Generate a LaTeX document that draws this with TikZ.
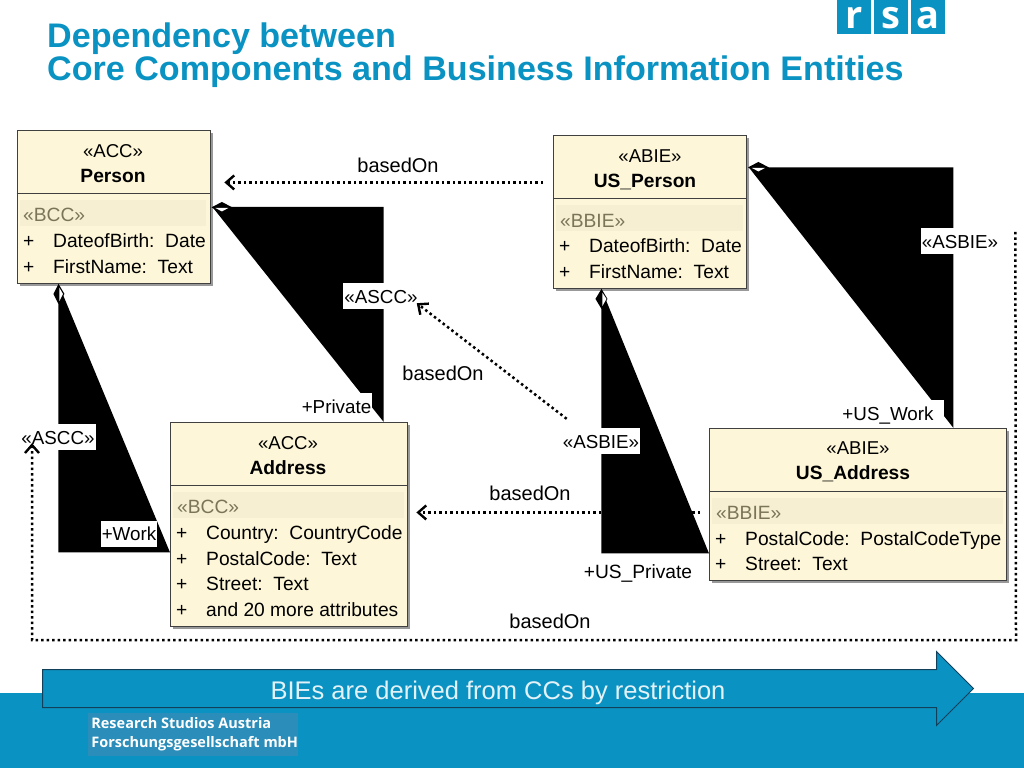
\documentclass[tikz,border=0pt]{standalone}
\usepackage{fontspec}
\setmainfont{Liberation Sans}
\newfontfamily\logofont{Open Sans}
\usetikzlibrary{arrows.meta,positioning,shapes,shapes.arrows,shadows,calc}
\definecolor{rsablue}{HTML}{0A93C2}
\definecolor{rsaband}{HTML}{2B8DB9}
\definecolor{rsanavy}{HTML}{12405A}
\definecolor{classbg}{HTML}{FDF6D8}
\definecolor{attrbg}{HTML}{F6EFD2}
\definecolor{stereo}{HTML}{7A7458}
\begin{document}
\begin{tikzpicture}[
  x=1pt, y=-1pt,
  cls/.style={draw=black!75, fill=classbg, line width=0.9pt, anchor=north west, inner sep=0pt, drop shadow={shadow xshift=3pt, shadow yshift=-3pt, fill=black!40, opacity=1}},
  band/.style={fill=attrbg, draw=none, anchor=north west, inner sep=0pt, minimum height=26pt},
  stype/.style={font=\fontsize{18.6}{20}\selectfont, inner sep=0pt},
  cname/.style={font=\fontsize{19.2}{20}\selectfont\bfseries, inner sep=0pt},
  bcc/.style={font=\fontsize{19.2}{20}\selectfont, text=stereo, inner sep=0pt, anchor=west},
  attr/.style={font=\fontsize{19.2}{20}\selectfont, inner sep=0pt, anchor=base west},
  lab/.style={font=\fontsize{19.2}{20}\selectfont, inner sep=0pt},
  based/.style={font=\fontsize{20}{20}\selectfont, inner sep=0pt},
  tag/.style={font=\fontsize{18.8}{20}\selectfont, fill=white, inner xsep=1pt, inner ysep=4pt, text height=16pt, text depth=2pt},
  dep/.style={line width=2.5pt, dash pattern=on 2.5pt off 3pt, -{Straight Barb[length=8pt,width=14pt,line width=2.4pt]}},
  logobox/.style={fill=rsablue, text=white, minimum width=34pt, minimum height=34pt, inner sep=0pt, font=\logofont\fontsize{38}{38}\selectfont\bfseries, anchor=north west, text height=23pt, text depth=0pt}
]
\useasboundingbox (0,0) rectangle (1024,768);
\fill[white] (0,0) rectangle (1024,768);
% footer and title
\node[fill=rsablue, anchor=north west, minimum width=1024pt, minimum height=75pt, inner sep=0pt] (footer) at (0,693) {};
\node[fill=rsaband, anchor=north west, minimum width=210pt, minimum height=43pt, inner sep=0pt, align=left, text=white, font=\logofont\fontsize{14.5}{19}\selectfont\bfseries] (rsf) at (88,713) {\hspace*{3pt}Research Studios Austria\\\hspace*{3pt}Forschungsgesellschaft mbH};
\node[anchor=north west, inner sep=0pt, align=left, text=rsablue, font=\fontsize{34.1}{33}\selectfont\bfseries] (title) at (47,23) {Dependency between\\Core Components and Business Information Entities};
\node[logobox] (logor) at (837,0) {r};
\node[logobox] (logos) at (874,0) {s};
\node[logobox] (logoa) at (911,0) {a};
\node[single arrow, draw=rsanavy, fill=rsablue, line width=1pt, anchor=tail, minimum width=73pt, minimum height=931pt, single arrow head extend=18pt, single arrow tip angle=90, inner xsep=0pt, inner ysep=18.5pt] (derive) at (42,688.5) {};
\node[text=white!88!rsablue, inner sep=0pt, font=\fontsize{25.5}{25.5}\selectfont] (derivet) at (498,692.5) {BIEs are derived from CCs by restriction};
% the four classes
\node[cls, minimum width=193pt, minimum height=153pt] (person) at (16.5,130) {};
\node[cls, minimum width=236.5pt, minimum height=204pt] (address) at (170,422) {};
\node[cls, minimum width=193pt, minimum height=153pt] (usperson) at (553,135) {};
\node[cls, minimum width=297pt, minimum height=152pt] (usaddress) at (709,428) {};
% person
\node[stype] (persons) at (113,151) {«ACC»};
\node[cname] (personn) at (113,176) {Person};
\draw[black!75, line width=0.9pt] (person.west |- 0,193) -- (person.east |- 0,193);
\node[band, minimum width=186pt] (personb) at (20,200) {};
\node[bcc] (personc) at (23,215) {«BCC»};
\node[attr] at (23,247) {+}; \node[attr] at (53,247) {DateofBirth:~~Date};
\node[attr] at (23,273) {+}; \node[attr] at (53,273) {FirstName:~~Text};
% address
\node[stype] (addresss) at (288,443) {«ACC»};
\node[cname] (addressn) at (288,468) {Address};
\draw[black!75, line width=0.9pt] (address.west |- 0,485) -- (address.east |- 0,485);
\node[band, minimum width=231pt] (addressb) at (173,492) {};
\node[bcc] (addressc) at (177,507) {«BCC»};
\node[attr] at (176,539) {+}; \node[attr] at (206,539) {Country:~~CountryCode};
\node[attr] at (176,565) {+}; \node[attr] at (206,565) {PostalCode:~~Text};
\node[attr] at (176,590) {+}; \node[attr] at (206,590) {Street:~~Text};
\node[attr] at (176,616) {+}; \node[attr] at (206,616) {and 20 more attributes};
% us person
\node[stype] (uspersons) at (650,156) {«ABIE»};
\node[cname] (uspersonn) at (645,182) {US\_Person};
\draw[black!75, line width=0.9pt] (usperson.west |- 0,198) -- (usperson.east |- 0,198);
\node[band, minimum width=187pt] (uspersonb) at (556,205) {};
\node[bcc] (uspersonc) at (560,221) {«BBIE»};
\node[attr] at (559,252) {+}; \node[attr] at (589,252) {DateofBirth:~~Date};
\node[attr] at (559,278) {+}; \node[attr] at (589,278) {FirstName:~~Text};
% us address
\node[stype] (usaddresss) at (858,448) {«ABIE»};
\node[cname] (usaddressn) at (853,474) {US\_Address};
\draw[black!75, line width=0.9pt] (usaddress.west |- 0,491) -- (usaddress.east |- 0,491);
\node[band, minimum width=291pt] (usaddressb) at (712,498) {};
\node[bcc] (usaddressc) at (716,513) {«BBIE»};
\node[attr] at (715,545) {+}; \node[attr] at (745,545) {PostalCode:~~PostalCodeType};
\node[attr] at (715,570) {+}; \node[attr] at (745,570) {Street:~~Text};
% dependencies between classes, under the black shapes
\draw[dep, shorten <=10pt, shorten >=14pt] ([yshift=29.5pt]usperson.west) -- ([yshift=24.5pt]person.east);
\draw[dep, shorten <=9pt, shorten >=9pt] ([yshift=-8pt]usaddress.west) -- ([yshift=12pt]address.east);
% aggregations
\coordinate (work) at ([yshift=-28pt]address.west);
\coordinate (workb) at ([xshift=-55pt]person.south);
\coordinate (priv) at ([xshift=95pt]address.north);
\coordinate (privb) at ([xshift=2pt]person.east);
\coordinate (uspriv) at ([yshift=-49pt]usaddress.west);
\coordinate (usprivb) at ([xshift=-48.5pt]usperson.south);
\coordinate (uswork) at ([xshift=95.5pt]usaddress.north);
\coordinate (usworkb) at ([xshift=2pt,yshift=44.5pt]usperson.east);
\fill[black] (workb) -- (workb |- work) -- (work) -- cycle;
\fill[black] (privb) -- (priv |- privb) -- (priv) -- cycle;
\fill[black] (usprivb) -- (usprivb |- uspriv) -- (uspriv) -- cycle;
\fill[black] (usworkb) -- (uswork |- usworkb) -- (uswork) -- cycle;
\fill[black] (workb) -- ++(-5,10) -- ++(5,10) -- ++(6,-10) -- cycle;
\fill[white] (workb) ++(1,4) -- ++(3.5,6) -- ++(-3.5,7) -- cycle;
\fill[black] (usprivb) -- ++(-6,10) -- ++(6,10) -- ++(6,-10) -- cycle;
\fill[white] (usprivb) ++(1,4) -- ++(4,6) -- ++(-4,7) -- cycle;
\fill[black] (privb) ++(-1,0.5) -- ++(10.5,-5.5) -- ++(10.5,5.5) -- ++(-10.5,5) -- cycle;
\fill[white] (privb) ++(3,1) -- ++(13,0) -- ++(-6.5,3.5) -- cycle;
\fill[black] (usworkb) ++(-1,0) -- ++(10.5,-5.5) -- ++(10.5,5.5) -- ++(-10.5,5) -- cycle;
\fill[white] (usworkb) ++(3,0.5) -- ++(13,0) -- ++(-6.5,3.5) -- cycle;
% labels on the black shapes
\node[tag] (asccb) at (58,437) {«ASCC»};
\node[tag] (asccr) at (381,296) {«ASCC»};
\node[tag] (asbieb) at (601,441) {«ASBIE»};
\node[tag] (asbier) at (960,241) {«ASBIE»};
\node[tag] (rolework) at (129,533.5) {+Work};
\node[tag] (rolepriv) at (336.5,406) {+Private};
\node[tag, inner xsep=10pt] (rolesw) at (888,413) {+US\_Work};
\node[lab] (rolesp) at (638,573) {+US\_Private};
\node[based] (baseda) at (398,165) {basedOn};
\node[based] (basedb) at (443,373) {basedOn};
\node[based] (basedc) at (530,493) {basedOn};
\node[based] (basedd) at (550,621) {basedOn};
% dependencies between the aggregations
\draw[dep] ([xshift=5pt,yshift=9pt]asbieb.north west) -- ([xshift=-2pt,yshift=6pt]asccr.south east);
\coordinate (bendr) at (1016,640);
\coordinate (bendl) at (32,640);
\coordinate (asccend) at ([yshift=7pt]asccb.south);
\draw[dep] ([xshift=16pt,yshift=-4pt]asbier.north east) -- (bendr) -- (bendl) -- (bendl |- asccend);
\end{tikzpicture}
\end{document}
